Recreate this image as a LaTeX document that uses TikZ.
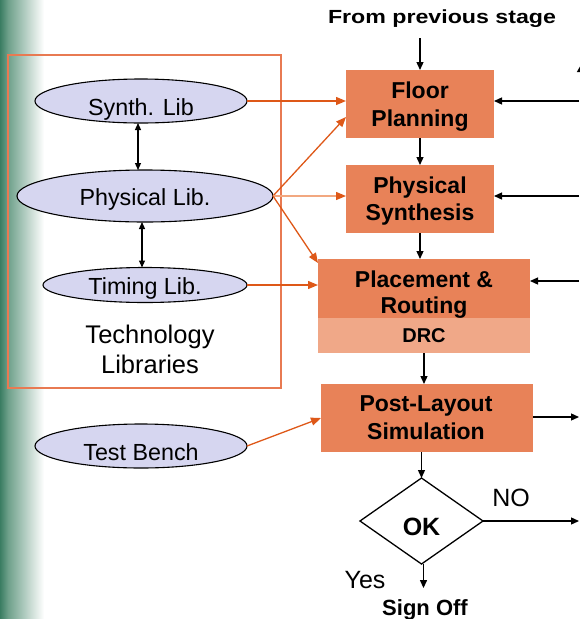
\documentclass[tikz,border=0pt]{standalone}
\usepackage{fontspec}
\setmainfont{Liberation Sans}
\usetikzlibrary{shapes.geometric,arrows.meta}
\definecolor{boxor}{RGB}{232,130,88}
\definecolor{drcor}{RGB}{240,168,136}
\definecolor{ellfill}{RGB}{214,214,240}
\definecolor{arror}{RGB}{222,88,24}
\definecolor{arrlight}{RGB}{242,168,128}
\definecolor{techor}{RGB}{232,122,82}
\definecolor{stripdark}{RGB}{58,125,98}
\definecolor{stripmid}{RGB}{110,160,138}
\begin{document}
\begin{tikzpicture}[x=1pt,y=-1pt,
  every node/.style={outer sep=0pt},
  stagebox/.style={fill=boxor, draw=none, inner sep=0pt},
  stagetxt/.style={align=center, inner sep=0pt},
  libell/.style={ellipse, draw=black, line width=1.1pt, fill=ellfill, inner sep=0pt,
    font=\fontsize{23.3}{28}\selectfont, text depth=0pt},
  blk/.style={draw=black, line width=1.3pt, -{Triangle[length=8pt,width=7pt]}},
  dbl/.style={draw=black, line width=1.2pt, {Triangle[length=7pt,width=6pt]}-{Triangle[length=7pt,width=6pt]}},
  orng/.style={draw=arror, line width=1.3pt, -{Triangle[length=10pt,width=8pt]}},
  orlight/.style={draw=arrlight, line width=1.3pt, -{Triangle[length=10pt,width=8pt,color=arror]}},
]
\useasboundingbox (0,0) rectangle (579,619);
% left strip
\shade[left color=stripdark, right color=stripmid] (0,0) rectangle (8,619);
\shade[left color=stripmid, right color=white] (8,0) rectangle (44,619);

% technology libraries frame
\node[draw=techor, line width=1.6pt, minimum width=273pt, minimum height=333pt, inner sep=0pt] (techbox) at (144.5,221.5) {};
\node[stagetxt, font=\fontsize{25.5}{30}\selectfont] (techtxt) at (150,349) {Technology\\Libraries};

% libraries
\node[libell, minimum width=212pt, minimum height=44pt, text height=28pt] (synth) at (141,101) {Synth. Lib};
\node[libell, minimum width=256pt, minimum height=52pt, text height=18pt] (physical) at (145,196) {Physical Lib.};
\node[libell, minimum width=204pt, minimum height=35pt, text height=18pt] (timing) at (145,285) {Timing Lib.};
\node[libell, minimum width=212pt, minimum height=44pt, text height=28pt] (test) at (141,446) {Test Bench};

% stage boxes
\node[stagebox, minimum width=148pt, minimum height=68pt] (floor) at (420,104) {};
\node[stagebox, minimum width=148pt, minimum height=68pt] (ps) at (420,199) {};
\node[stagebox, minimum width=212pt, minimum height=59pt] (place) at (424,288.5) {};
\node[stagebox, minimum width=212pt, minimum height=68pt] (post) at (427,418) {};

\node[stagetxt, font=\fontsize{23}{28}\selectfont\bfseries] (floortxt) at (420,107) {Floor\\Planning};
\node[stagetxt, font=\fontsize{23}{27}\selectfont\bfseries] (pstxt) at (420,200.7) {Physical\\Synthesis};
\node[stagetxt, font=\fontsize{23}{26}\selectfont\bfseries] (placetxt) at (424,294.2) {Placement \&\\Routing};
\node[stagetxt, font=\fontsize{23}{28}\selectfont\bfseries] (posttxt) at (426,417.3) {Post-Layout\\Simulation};

\node[fill=drcor, inner sep=0pt, minimum width=212pt, minimum height=35pt,
  font=\fontsize{20}{24}\selectfont\bfseries, text depth=0pt] (drc) at (424,335.5) {DRC};

% decision
\node[diamond, draw=black, line width=1.3pt, fill=white, inner sep=0pt,
  minimum width=123pt, minimum height=86pt, text height=28pt, text depth=0pt,
  font=\fontsize{25}{30}\selectfont\bfseries] (ok) at (421.5,521) {OK};

% labels
\node[font=\fontsize{19}{23}\selectfont\bfseries, xscale=1.22, anchor=base, inner sep=0pt] (hdr) at (442,23) {From previous stage};
\node[font=\fontsize{22}{26}\selectfont\bfseries, anchor=base, inner sep=0pt] (signoff) at (425,615) {Sign Off};
\node[font=\fontsize{25}{30}\selectfont, anchor=base, inner sep=0pt] (yes) at (365,588) {Yes};
\node[font=\fontsize{25}{30}\selectfont, anchor=base, inner sep=0pt] (no) at (511,506) {NO};

% free ends
\coordinate (fromtop) at (420,38);
\coordinate (rin1) at (579,101);
\coordinate (rin2) at (579,196);
\coordinate (rin3) at (579,281);
\coordinate (postout) at (579,417);
\coordinate (noout) at (579,521);
\coordinate (upbot) at (582,101);
\coordinate (uptop) at (582,63);

% black flow
\draw[blk] (fromtop) -- (floor.north);
\draw[blk] (floor.south) -- (ps.north);
\draw[blk] (ps.south) -- (ps.south |- place.north);
\draw[blk] (drc.south) -- (drc.south |- post.north);
\draw[blk] (ok.north |- post.south) -- (ok.north);
\draw[blk, shorten >=11pt] ([xshift=2pt]ok.south) -- ([xshift=2pt]ok.south |- signoff.north);
\draw[blk] (ok.east) -- (noout);
\draw[blk] (post.east |- postout) -- (postout);
\draw[blk] (rin1) -- (rin1 -| floor.east);
\draw[blk] (rin2) -- (rin2 -| ps.east);
\draw[blk] (rin3) -- (rin3 -| place.east);
\draw[draw=black, line width=1.3pt, -{Triangle[length=9pt,width=10pt]}] (upbot) -- (uptop);

% library links
\draw[dbl] ([xshift=-3pt]synth.south) -- ([xshift=-3pt]synth.south |- physical.north);
\draw[dbl] ([xshift=-3pt]physical.south) -- ([xshift=-3pt]physical.south |- timing.north);

% orange inputs
\draw[orng] (synth.east) -- (synth.east -| floor.west);
\draw[orng] (physical.east) -- ([yshift=-13pt]floor.west);
\draw[orlight] (physical.east) -- (physical.east -| ps.west);
\draw[orng] (physical.east) -- ([yshift=-4pt]place.north west);
\draw[orng] (timing.east) -- (timing.east -| place.west);
\draw[orng] (test.east) -- (post.west);
\end{tikzpicture}
\end{document}
